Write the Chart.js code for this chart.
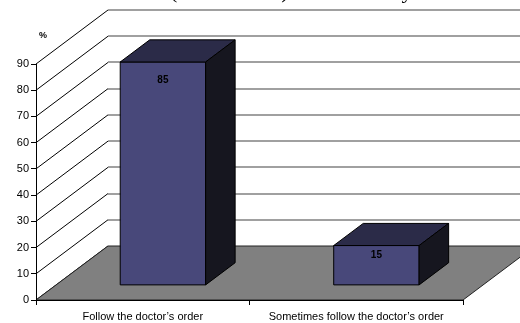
<!DOCTYPE html>
<html>
<head>
<meta charset="utf-8">
<script src="https://cdn.jsdelivr.net/npm/chart.js@4.4.1/dist/chart.umd.min.js"></script>
<style>
  html, body { margin: 0; padding: 0; background: #ffffff; }
  #wrap { width: 520px; height: 323px; }
</style>
</head>
<body>
<div id="wrap"><canvas id="chart" width="520" height="323"></canvas></div>
<script>
// Share of patients by how they follow the doctor's order (%)
const categories = ["Follow the doctor\u2019s order", "Sometimes follow the doctor\u2019s order"];
const percentValues = [85, 15];
const axisMin = 0;
const axisMax = 90;
const axisStep = 10;
const axisUnit = "%";
const titleText = "Attitude to treatment (in the clinic) in this survey";

// 3D look: how far the back wall sits behind the front plane, and where the boxes sit in that depth
const WALL_DX = 72, WALL_DY = 54;
const BAR_FRONT = 0.28, BAR_DEPTH = 0.41;
const COLORS = {
  front: '#48487a', top: '#2b2b48', side: '#16161f',
  floor: '#808080', grid: '#808080', edge: '#000000'
};
const SANS = '"Liberation Sans", Arial, sans-serif';

function poly(ctx, pts, fill) {
  ctx.beginPath();
  ctx.moveTo(pts[0][0], pts[0][1]);
  for (let i = 1; i < pts.length; i++) ctx.lineTo(pts[i][0], pts[i][1]);
  ctx.closePath();
  if (fill) { ctx.fillStyle = fill; ctx.fill(); }
  ctx.stroke();
}

const box3d = {
  id: 'box3d',
  beforeDraw(chart) {
    const { ctx, chartArea: a, scales: { y } } = chart;
    ctx.save();
    // back wall gridlines
    ctx.lineWidth = 1.7;
    ctx.strokeStyle = COLORS.grid;
    for (let v = axisMin + axisStep; v <= axisMax; v += axisStep) {
      const yy = Math.round(y.getPixelForValue(v) - WALL_DY);
      ctx.beginPath();
      ctx.moveTo(a.left + WALL_DX, yy);
      ctx.lineTo(chart.width, yy);
      ctx.stroke();
    }
    // side wall diagonals from each tick
    ctx.lineWidth = 1;
    ctx.strokeStyle = COLORS.edge;
    for (let v = axisMin; v <= axisMax; v += axisStep) {
      const yy = y.getPixelForValue(v);
      ctx.beginPath();
      ctx.moveTo(a.left, yy);
      ctx.lineTo(a.left + WALL_DX, yy - WALL_DY);
      ctx.stroke();
    }
    // floor
    const y0 = y.getPixelForValue(axisMin);
    ctx.strokeStyle = '#222';
    poly(ctx, [
      [a.left, y0], [a.right, y0],
      [a.right + WALL_DX, y0 - WALL_DY], [a.left + WALL_DX, y0 - WALL_DY]
    ], COLORS.floor);
    ctx.restore();
  },
  beforeDatasetsDraw(chart) {
    const { ctx, scales: { y } } = chart;
    const meta = chart.getDatasetMeta(0);
    const fx = WALL_DX * BAR_FRONT, fy = WALL_DY * BAR_FRONT;
    const bx = WALL_DX * BAR_DEPTH, by = WALL_DY * BAR_DEPTH;
    ctx.save();
    ctx.lineWidth = 1;
    ctx.strokeStyle = COLORS.edge;
    ctx.lineJoin = 'miter';
    meta.data.forEach((el) => {
      const l = el.x - el.width / 2 + fx, r = l + el.width;
      const b = y.getPixelForValue(axisMin) - fy, t = el.y - fy;
      poly(ctx, [[l, t], [r, t], [r, b], [l, b]], COLORS.front);
      poly(ctx, [[l, t], [r, t], [r + bx, t - by], [l + bx, t - by]], COLORS.top);
      poly(ctx, [[r, t], [r + bx, t - by], [r + bx, b - by], [r, b]], COLORS.side);
    });
    ctx.restore();
  },
  afterDatasetsDraw(chart) {
    const { ctx, chartArea: a, scales: { y } } = chart;
    const meta = chart.getDatasetMeta(0);
    const fx = WALL_DX * BAR_FRONT, fy = WALL_DY * BAR_FRONT;
    ctx.save();
    ctx.fillStyle = '#000';
    ctx.font = 'bold 10px ' + SANS;
    ctx.textAlign = 'center';
    ctx.textBaseline = 'middle';
    meta.data.forEach((el, i) => {
      const t = el.y - fy;
      const h = y.getPixelForValue(axisMin) - fy - t;
      ctx.fillText(String(percentValues[i]), el.x + fx, t + Math.min(18, h / 4));
    });
    // unit label above the value axis
    ctx.font = 'bold 9px ' + SANS;
    ctx.textAlign = 'left';
    ctx.fillText(axisUnit, a.left + 3, a.top - 28);
    ctx.restore();
  },
  afterDraw(chart) {
    const { ctx } = chart;
    ctx.save();
    ctx.fillStyle = '#000';
    ctx.font = '22px "Liberation Serif", "Times New Roman", serif';
    ctx.textBaseline = 'alphabetic';
    ctx.textAlign = 'left';
    const pre = titleText.slice(0, titleText.indexOf('('));
    ctx.fillText(titleText, 170 - ctx.measureText(pre).width, -2);
    ctx.restore();
  }
};

new Chart(document.getElementById('chart'), {
  type: 'bar',
  data: {
    labels: categories,
    datasets: [{
      data: percentValues,
      backgroundColor: 'rgba(0,0,0,0)',
      borderWidth: 0,
      categoryPercentage: 1.0,
      barPercentage: 0.4
    }]
  },
  options: {
    responsive: false,
    animation: false,
    devicePixelRatio: 1,
    layout: { padding: { top: 64, right: 57, left: 0, bottom: 0 } },
    plugins: { legend: { display: false }, tooltip: { enabled: false }, title: { display: false } },
    scales: {
      x: {
        offset: true,
        grid: { offset: true, drawOnChartArea: false, drawTicks: true, tickLength: 5, color: '#000', tickColor: '#000' },
        border: { display: true, color: '#000', width: 1 },
        ticks: { color: '#000', font: { family: SANS, size: 11 }, padding: 5, maxRotation: 0, autoSkip: false },
        afterFit(scale) { scale.height = 23; }
      },
      y: {
        min: axisMin, max: axisMax,
        grid: { drawOnChartArea: false, drawTicks: true, tickLength: 5, color: '#000', tickColor: '#000' },
        border: { display: true, color: '#000', width: 1 },
        ticks: { stepSize: axisStep, color: '#000', font: { family: SANS, size: 11 }, padding: 2 },
        afterFit(scale) { scale.width = 36; }
      }
    }
  },
  plugins: [box3d]
});
</script>
</body>
</html>
